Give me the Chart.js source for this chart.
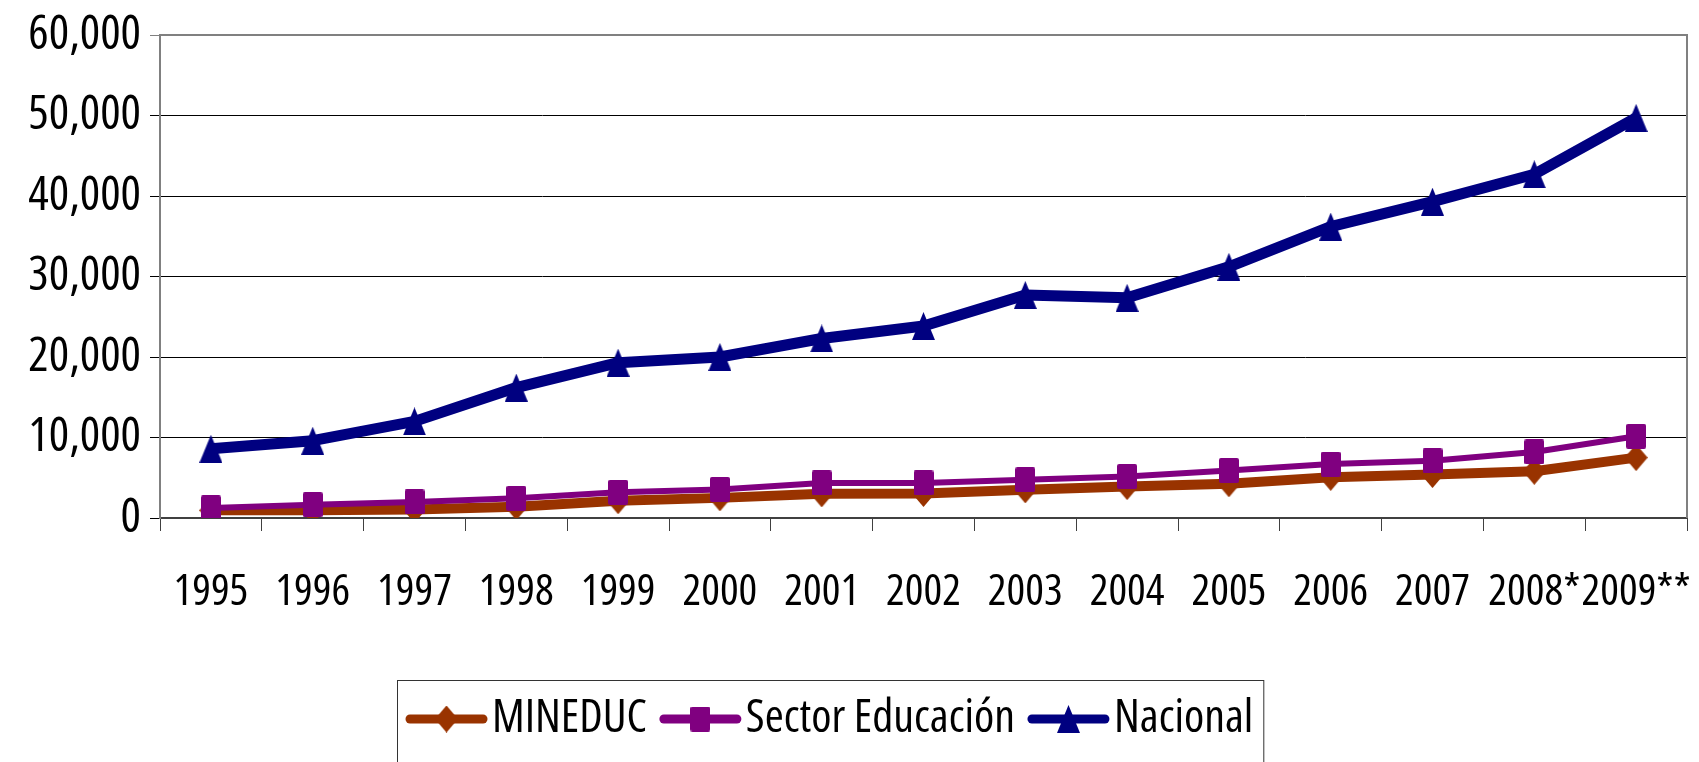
<!DOCTYPE html>
<html><head><meta charset="utf-8">
<script src="https://cdn.jsdelivr.net/npm/chart.js@4.4.1/dist/chart.umd.min.js"></script>
<style>html,body{margin:0;padding:0;background:#fff;overflow:hidden;}</style>
</head><body>
<canvas id="c" width="1699" height="762"></canvas>
<script>
const years = ['1995','1996','1997','1998','1999','2000','2001','2002','2003','2004','2005','2006','2007','2008*','2009**'];
const mineduc = [950, 950, 1050, 1400, 2150, 2500, 3000, 3050, 3500, 3900, 4250, 5050, 5400, 5800, 7500];
const sectorEducacion = [1250, 1650, 2000, 2450, 3200, 3550, 4350, 4350, 4750, 5150, 5900, 6700, 7100, 8200, 10150];
const nacional = [8600, 9600, 12000, 16200, 19300, 20000, 22300, 23850, 27700, 27350, 31200, 36200, 39300, 42700, 49700];
const seriesNames = ['MINEDUC', 'Sector Educación', 'Nacional'];
const yMin = 0, yMax = 60000, yStep = 10000;

const FAMILY = '"Open Sans", "DejaVu Sans Condensed", sans-serif';
const STRETCH = 'condensed';
const colors = ['#993300', '#800080', '#000080'];
const widths = [10, 6, 11];

function marker(kind, w, h, color) {
  const c = document.createElement('canvas');
  c.width = w; c.height = h;
  const g = c.getContext('2d');
  g.fillStyle = color;
  g.beginPath();
  if (kind === 'diamond') {
    g.moveTo(w / 2, 0); g.lineTo(w, h / 2); g.lineTo(w / 2, h); g.lineTo(0, h / 2);
  } else if (kind === 'square') {
    g.roundRect(0, 0, w, h, 2);
  } else {
    g.moveTo(w / 2, 0); g.lineTo(w, h); g.lineTo(0, h);
  }
  g.closePath();
  g.fill();
  return c;
}
const markers = [
  marker('diamond', 23, 27, colors[0]),
  marker('square', 20, 25, colors[1]),
  marker('triangle', 23, 28, colors[2])
];

const frame = {
  id: 'frame',
  beforeDatasetsDraw(chart) {
    const {ctx, chartArea: a} = chart;
    ctx.save();
    ctx.strokeStyle = '#808080';
    ctx.lineWidth = 2;
    ctx.beginPath();
    ctx.moveTo(a.left, a.top); ctx.lineTo(a.right, a.top); ctx.lineTo(a.right, a.bottom);
    ctx.stroke();
    ctx.restore();
  }
};

const legendBox = {
  id: 'legendBox',
  afterDraw(chart) {
    const ctx = chart.ctx;
    ctx.save();
    ctx.font = STRETCH + ' 46px ' + FAMILY;
    ctx.textBaseline = 'middle';
    ctx.textAlign = 'left';
    const y = 719;
    let x = 410;
    const lineLen = 73;
    for (let i = 0; i < seriesNames.length; i++) {
      ctx.strokeStyle = colors[i];
      ctx.lineWidth = 9;
      ctx.lineCap = 'round';
      ctx.beginPath(); ctx.moveTo(x, y); ctx.lineTo(x + lineLen, y); ctx.stroke();
      Chart.helpers.drawPoint(ctx, {pointStyle: markers[i], radius: 12, rotation: 0, borderWidth: 0}, x + lineLen / 2, y);
      ctx.fillStyle = '#000';
      const tx = x + lineLen + 9;
      ctx.fillText(seriesNames[i], tx, y);
      x = tx + ctx.measureText(seriesNames[i]).width + 17;
    }
    const right = x - 17 + 10;
    ctx.strokeStyle = '#333';
    ctx.lineWidth = 1;
    ctx.strokeRect(397.5, 680.5, right - 397, 100);
    ctx.restore();
  }
};

const dataArrays = [mineduc, sectorEducacion, nacional];
new Chart(document.getElementById('c'), {
  type: 'line',
  data: {
    labels: years,
    datasets: dataArrays.map((d, i) => ({
      label: seriesNames[i],
      data: d,
      borderColor: colors[i],
      backgroundColor: colors[i],
      borderWidth: widths[i],
      pointStyle: markers[i],
      pointRadius: 12,
      pointHoverRadius: 12,
      pointBorderWidth: 0,
      tension: 0,
      borderJoinStyle: 'round',
      order: 3 - i
    }))
  },
  options: {
    responsive: false,
    animation: false,
    devicePixelRatio: 1,
    layout: {padding: {top: 35, right: 9, left: 0, bottom: 0}},
    plugins: {legend: {display: false}, tooltip: {enabled: false}},
    scales: {
      x: {
        offset: true,
        grid: {offset: true, drawOnChartArea: false, drawTicks: true, tickLength: 13, color: '#404040', lineWidth: 1},
        border: {display: true, color: '#404040', width: 2},
        ticks: {color: '#000', font: {family: FAMILY, weight: STRETCH, size: 44}, padding: 35, maxRotation: 0, autoSkip: false},
        afterFit: s => { s.height = 244; s.paddingLeft = 0; s.paddingRight = 0; }
      },
      y: {
        min: yMin, max: yMax,
        grid: {
          color: c => (c.tick && c.tick.value === yMax) ? '#808080' : '#000',
          lineWidth: 1, tickLength: 10, drawTicks: true
        },
        border: {display: true, color: '#808080', width: 2},
        ticks: {
          stepSize: yStep, color: '#000', padding: 9,
          font: {family: FAMILY, weight: STRETCH, size: 48},
          callback: v => v.toLocaleString('en-US')
        },
        afterFit: s => { s.width = 160; s.paddingTop = 0; s.paddingBottom = 0; }
      }
    }
  },
  plugins: [frame, legendBox]
});
</script>
</body></html>
